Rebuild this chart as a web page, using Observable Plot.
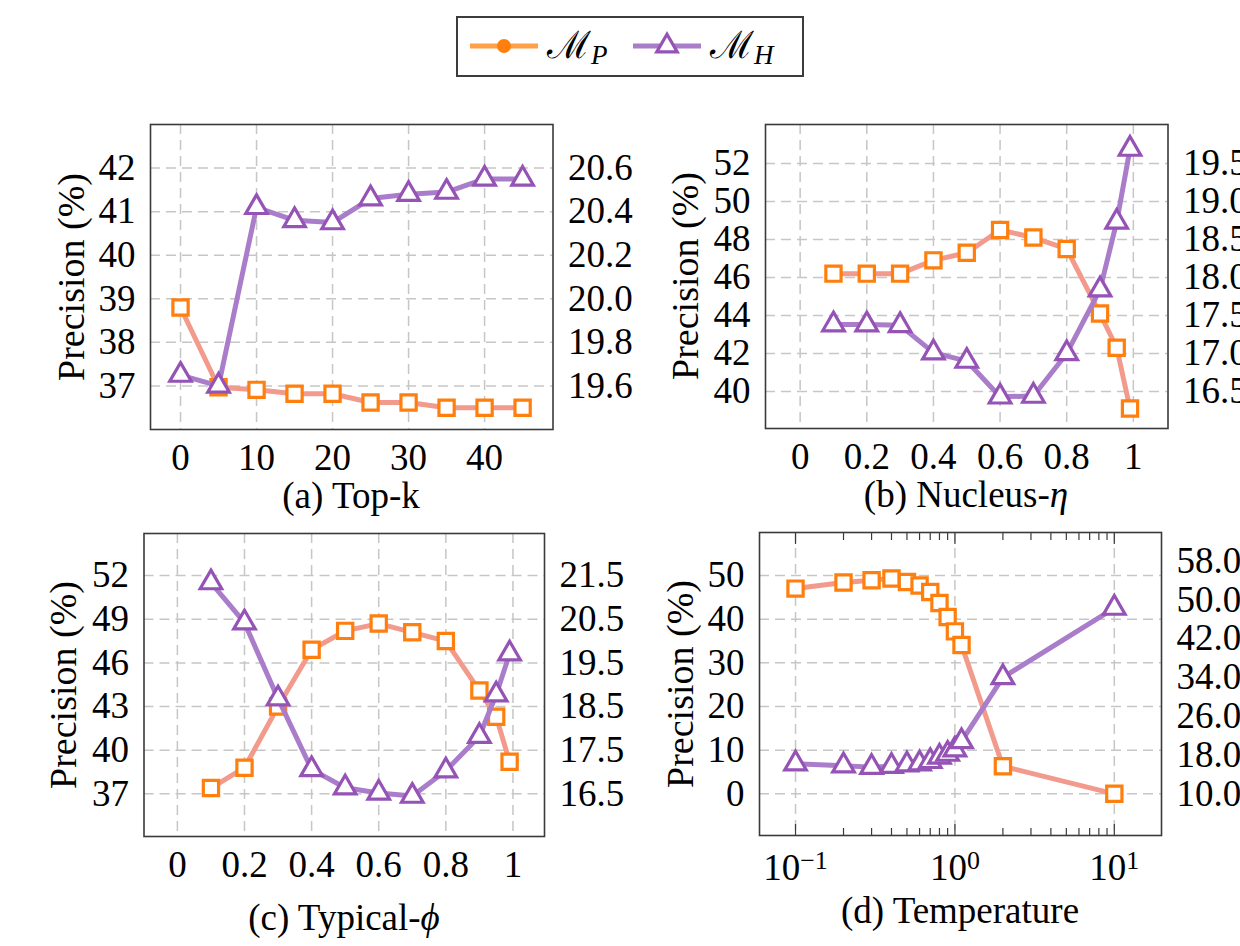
<!DOCTYPE html>
<html>
<head>
<meta charset="utf-8">
<script src="https://cdn.jsdelivr.net/npm/d3@7"></script>
<script src="https://cdn.jsdelivr.net/npm/@observablehq/plot@0.6"></script>
<style>
  html, body { margin: 0; padding: 0; background: #fff; }
  #root { position: relative; width: 1240px; height: 946px; overflow: hidden;
          font-family: "Liberation Serif", "DejaVu Serif", serif; color: #000; background: #fff; }
  .panel { position: absolute; }
  .cap { position: absolute; font-size: 37px; white-space: nowrap; line-height: 1;
         transform: translate(-50%, -50%); }
  .ylab { position: absolute; font-size: 38px; white-space: nowrap; line-height: 1;
          transform: translate(-50%, -50%) rotate(-90deg); }
  #legend { position: absolute; left: 456px; top: 16px; width: 344px; height: 57px;
            border: 2px solid #3c3c3c; background: #fff; }
</style>
</head>
<body>
<div id="root"></div>
<script>
// ---------------- data ----------------
// (a) Top-k
const topK = [0, 5, 10, 15, 20, 25, 30, 35, 40, 45];
const topKPrecisionMP = [38.8, 36.97, 36.91, 36.82, 36.82, 36.62, 36.62, 36.5, 36.5, 36.5];
const topKValueMH = [19.65, 19.60, 20.42, 20.36, 20.35, 20.46, 20.48, 20.49, 20.55, 20.55];
const topKTicks = [0, 10, 20, 30, 40];
const topKLeftTicks = [37, 38, 39, 40, 41, 42];
const topKRightTicks = [19.6, 19.8, 20.0, 20.2, 20.4, 20.6];

// (b) Nucleus-eta
const nucleusEta = [0.1, 0.2, 0.3, 0.4, 0.5, 0.6, 0.7, 0.8, 0.9, 0.95, 0.99];
const nucleusPrecisionMP = [46.2, 46.2, 46.2, 46.9, 47.3, 48.5, 48.1, 47.5, 44.1, 42.3, 39.1];
const nucleusValueMH = [17.38, 17.38, 17.37, 17.01, 16.90, 16.43, 16.44, 17.0, 17.84, 18.73, 19.69];
const unitTicks = [0, 0.2, 0.4, 0.6, 0.8, 1];
const nucleusLeftTicks = [40, 42, 44, 46, 48, 50, 52];
const nucleusRightTicks = [16.5, 17.0, 17.5, 18.0, 18.5, 19.0, 19.5];

// (c) Typical-phi
const typicalPhi = [0.1, 0.2, 0.3, 0.4, 0.5, 0.6, 0.7, 0.8, 0.9, 0.95, 0.99];
const typicalPrecisionMP = [37.4, 38.8, 43.0, 46.9, 48.2, 48.7, 48.1, 47.5, 44.1, 42.3, 39.2];
const typicalValueMH = [21.34, 20.42, 18.68, 17.06, 16.64, 16.52, 16.45, 17.03, 17.82, 18.77, 19.71];
const typicalLeftTicks = [37, 40, 43, 46, 49, 52];
const typicalRightTicks = [16.5, 17.5, 18.5, 19.5, 20.5, 21.5];

// (d) Temperature
const temperature = [0.1, 0.2, 0.3, 0.4, 0.5, 0.6, 0.7, 0.8, 0.9, 1.0, 1.1, 2, 10];
const temperaturePrecisionMP = [47.0, 48.4, 48.9, 49.3, 48.5, 47.7, 46.2, 43.7, 40.5, 37.2, 34.1, 6.3, 0.0];
const temperatureValueMH = [16.2, 15.8, 15.5, 15.7, 16.0, 16.2, 16.7, 17.6, 18.2, 19.1, 20.8, 34.0, 48.3];
const tempTicks = [0.1, 1, 10];
const tempTickBase = ["10", "10", "10"];
const tempTickExp = ["\u22121", "0", "1"];
const tempMinorTicks = [0.2, 0.3, 0.4, 0.5, 0.6, 0.7, 0.8, 0.9, 2, 3, 4, 5, 6, 7, 8, 9];
const tempLeftTicks = [0, 10, 20, 30, 40, 50];
const tempRightTicks = [10, 18, 26, 34, 42, 50, 58];

const seriesNames = ["\u2133", "\u2133"]; // script M
const seriesSubs = ["P", "H"];

// ---------------- style ----------------
const FONT = '"Liberation Serif", "DejaVu Serif", serif';
const ORANGE = "#ff7f0e", SALMON = "#f29a8c";
const PURPLE = "#9553b6", PURPLE_LINE = "#a97dc9";
const GRID = "#c6c6c6", FRAME = "#3a3a3a";

const root = document.getElementById("root");

function panel(o) {
  const {svgX, svgY, svgW, svgH, frame} = o;
  const toLeft = r => o.leftRef + (r - o.rightRef) / o.slope;
  const toRight = v => o.rightRef + (v - o.leftRef) * o.slope;
  const dataP = o.xs.map((x, i) => ({x, v: o.P[i]}));
  const dataH = o.xs.map((x, i) => ({x, v: toLeft(o.MH[i])}));
  const gridStyle = {stroke: GRID, strokeOpacity: 1, strokeWidth: 1.5, strokeDasharray: "10,6"};
  const marks = [
    Plot.gridX(o.xTicks, gridStyle),
    Plot.gridY(o.yTicks, gridStyle)
  ];
  if (o.minor) {
    const tk = {tickPadding: 0, tickFormat: () => "", label: null, stroke: FRAME, strokeWidth: 1.2};
    marks.push(
      Plot.axisX(o.minor, {anchor: "bottom", tickSize: -7, ...tk}),
      Plot.axisX(o.minor, {anchor: "top", tickSize: -7, ...tk}),
      Plot.axisX(o.xTicks, {anchor: "top", tickSize: -11, ...tk}),
      Plot.axisX(o.xTicks, {anchor: "bottom", tickSize: -11, ...tk})
    );
  }
  marks.push(
    Plot.frame({stroke: FRAME, strokeWidth: 1.6}),
    Plot.axisX(o.xTicks, {anchor: "bottom", tickSize: 0, tickPadding: o.xPad, tickFormat: o.xFmt, label: null}),
    Plot.axisY(o.yTicks, {anchor: "left", tickSize: 0, tickPadding: 15, label: null}),
    Plot.axisY(o.rTicks.map(toLeft), {anchor: "right", tickSize: 0, tickPadding: 15, label: null,
      tickFormat: v => toRight(v).toFixed(1)}),
    Plot.line(dataP, {x: "x", y: "v", stroke: SALMON, strokeWidth: 5, strokeLinejoin: "round"}),
    Plot.dot(dataP, {x: "x", y: "v", symbol: "square", r: 8.6, stroke: ORANGE, strokeWidth: 3.2, fill: "white"}),
    Plot.line(dataH, {x: "x", y: "v", stroke: PURPLE_LINE, strokeWidth: 5, strokeLinejoin: "round"}),
    Plot.dot(dataH, {x: "x", y: "v", symbol: "triangle", r: 8, stroke: PURPLE, strokeWidth: 3.2, fill: "white"})
  );
  const svg = Plot.plot({
    width: svgW, height: svgH,
    marginLeft: frame.L - svgX, marginRight: svgX + svgW - frame.R,
    marginTop: frame.T - svgY, marginBottom: svgY + svgH - frame.B,
    x: {type: o.xType || "linear", domain: o.xDomain},
    y: {type: "linear", domain: o.yDomain},
    style: {fontFamily: FONT, fontSize: "37px", color: "#000", background: "transparent", overflow: "visible"},
    marks
  });
  if (o.postText) o.postText(svg);
  const wrap = document.createElement("div");
  wrap.className = "panel";
  wrap.style.left = svgX + "px";
  wrap.style.top = svgY + "px";
  wrap.style.width = svgW + "px";
  wrap.style.height = svgH + "px";
  wrap.appendChild(svg);
  root.appendChild(wrap);

  const cap = document.createElement("div");
  cap.className = "cap";
  cap.innerHTML = o.caption;
  cap.style.left = o.capX + "px";
  cap.style.top = o.capY + "px";
  root.appendChild(cap);

  const yl = document.createElement("div");
  yl.className = "ylab";
  yl.textContent = "Precision (%)";
  yl.style.left = o.ylabX + "px";
  yl.style.top = ((frame.T + frame.B) / 2) + "px";
  root.appendChild(yl);
}

panel({
  svgX: 0, svgY: 100, svgW: 640, svgH: 420, frame: {L: 150, R: 552.5, T: 124, B: 429},
  xs: topK, P: topKPrecisionMP, MH: topKValueMH,
  xDomain: [-3.95, 49.0], yDomain: [36.0, 43.0],
  xTicks: topKTicks, xFmt: d => String(d), xPad: 14,
  yTicks: topKLeftTicks, rTicks: topKRightTicks, leftRef: 37, rightRef: 19.6, slope: 0.2,
  caption: "(a) Top-k", capX: 351, capY: 495, ylabX: 71
});

panel({
  svgX: 620, svgY: 100, svgW: 640, svgH: 420, frame: {L: 765, R: 1167.5, T: 124, B: 428},
  xs: nucleusEta, P: nucleusPrecisionMP, MH: nucleusValueMH,
  xDomain: [-0.104, 1.104], yDomain: [38.05, 54.05],
  xTicks: unitTicks, xFmt: d => String(d), xPad: 14,
  yTicks: nucleusLeftTicks, rTicks: nucleusRightTicks, leftRef: 40, rightRef: 16.5, slope: 0.25,
  caption: "(b) Nucleus-<i>\u03B7</i>", capX: 966, capY: 494, ylabX: 685
});

panel({
  svgX: 0, svgY: 510, svgW: 640, svgH: 420, frame: {L: 143.5, R: 544, T: 533, B: 836},
  xs: typicalPhi, P: typicalPrecisionMP, MH: typicalValueMH,
  xDomain: [-0.0995, 1.094], yDomain: [34.07, 54.89],
  xTicks: unitTicks, xFmt: d => String(d), xPad: 14,
  yTicks: typicalLeftTicks, rTicks: typicalRightTicks, leftRef: 37, rightRef: 16.5, slope: 1 / 3,
  caption: "(c) Typical-<i>\u03D5</i>", capX: 344, capY: 917, ylabX: 63
});

panel({
  svgX: 620, svgY: 510, svgW: 640, svgH: 420, frame: {L: 759, R: 1161, T: 532, B: 835},
  xs: temperature, P: temperaturePrecisionMP, MH: temperatureValueMH,
  xType: "log", xDomain: [Math.pow(10, -1.226), Math.pow(10, 1.296)], yDomain: [-9.55, 59.85],
  xTicks: tempTicks, xFmt: d => "TT" + tempTicks.indexOf(d), xPad: 18, minor: tempMinorTicks,
  postText: svg => {
    d3.select(svg).selectAll("text").each(function () {
      const s = this.textContent;
      if (/^TT\d$/.test(s)) {
        const i = +s.slice(2);
        const t = d3.select(this);
        t.text(null);
        t.append("tspan").text(tempTickBase[i]);
        t.append("tspan").attr("dy", "-0.42em").style("font-size", "0.7em").text(tempTickExp[i]);
      }
    });
  },
  yTicks: tempLeftTicks, rTicks: tempRightTicks, leftRef: 0, rightRef: 10, slope: 0.9,
  caption: "(d) Temperature", capX: 960, capY: 910, ylabX: 680
});

// ---------------- legend ----------------
const legend = document.createElement("div");
legend.id = "legend";
root.appendChild(legend);
const ls = d3.select(legend).append("svg").attr("width", 344).attr("height", 57)
  .style("position", "absolute").style("left", "0px").style("top", "0px");
const entries = [
  {x0: 12, color: "#ffa047", mark: "circle", name: seriesNames[0], sub: seriesSubs[0], tx: 89},
  {x0: 175, color: PURPLE_LINE, mark: "triangle", name: seriesNames[1], sub: seriesSubs[1], tx: 252}
];
for (const e of entries) {
  ls.append("line").attr("x1", e.x0).attr("x2", e.x0 + 68).attr("y1", 28).attr("y2", 28)
    .attr("stroke", e.color).attr("stroke-width", 5);
  if (e.mark === "circle") {
    ls.append("circle").attr("cx", e.x0 + 34).attr("cy", 28).attr("r", 7).attr("fill", ORANGE);
  } else {
    ls.append("path").attr("d", d3.symbol(d3.symbolTriangle, 7.6 * 7.6 * Math.PI)())
      .attr("transform", `translate(${e.x0 + 34},28)`)
      .attr("fill", "white").attr("stroke", PURPLE).attr("stroke-width", 3.2);
  }
  const t = ls.append("text").attr("x", e.tx).attr("y", 40)
    .style("font-family", '"DejaVu Serif", "Liberation Serif", serif').style("font-size", "38px");
  t.append("tspan").text(e.name);
  t.append("tspan").attr("dy", 6).style("font-family", FONT).style("font-style", "italic")
    .style("font-size", "27px").text(e.sub);
}
</script>
</body>
</html>
